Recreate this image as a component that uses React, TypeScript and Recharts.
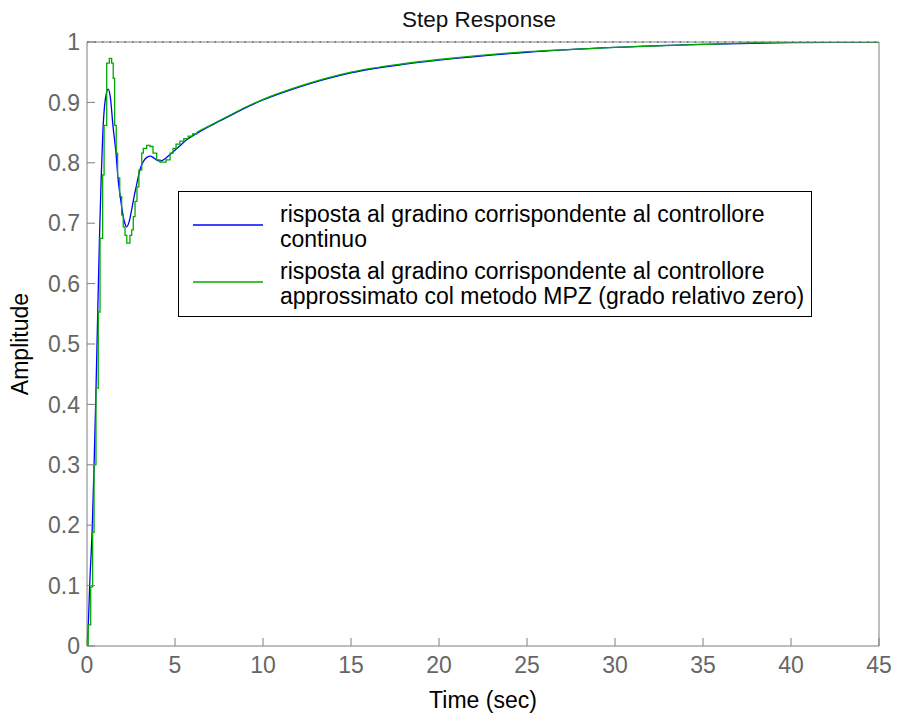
import React from 'react';
import { LineChart, Line, XAxis, YAxis, ReferenceLine, Label } from 'recharts';

// continuous controller (blue)
const blueTime = [0, 0.08, 0.15, 0.3, 0.4, 0.5, 0.6, 0.7, 0.8, 0.9, 1.0, 1.1, 1.2, 1.32, 1.48, 1.65, 1.76, 1.9, 2.02, 2.15, 2.25, 2.4, 2.55, 2.67, 2.85, 3.0, 3.2, 3.4, 3.6, 3.8, 4.0, 4.15, 4.4, 4.6, 4.8, 5.2, 5.66, 6.2, 7, 8, 9, 10, 12, 15, 18, 20, 25, 30, 35, 40, 45];
const blueAmp = [0, 0.04, 0.098, 0.198, 0.297, 0.41, 0.54, 0.665, 0.77, 0.85, 0.895, 0.915, 0.922, 0.91, 0.86, 0.815, 0.775, 0.742, 0.717, 0.7, 0.694, 0.703, 0.724, 0.743, 0.768, 0.788, 0.802, 0.809, 0.811, 0.808, 0.804, 0.803, 0.806, 0.811, 0.816, 0.826, 0.838, 0.848, 0.861, 0.876, 0.891, 0.904, 0.925, 0.949, 0.963, 0.97, 0.983, 0.991, 0.996, 0.999, 1.0];

// MPZ discretised controller (green), zero-order-hold part
const greenStepTime = [0, 0.07, 0.21, 0.32, 0.4, 0.51, 0.64, 0.74, 0.89, 0.97, 1.12, 1.27, 1.4, 1.49, 1.57, 1.66, 1.74, 1.86, 1.97, 2.06, 2.16, 2.26, 2.44, 2.54, 2.63, 2.73, 2.84, 2.95, 3.11, 3.2, 3.39, 3.58, 3.75, 3.96, 4.15, 4.49, 4.72, 4.89, 5.06, 5.28, 5.5, 5.75, 6.0, 6.25];
const greenStepAmp = [0, 0.035, 0.098, 0.188, 0.3, 0.427, 0.553, 0.675, 0.78, 0.862, 0.965, 0.973, 0.965, 0.94, 0.862, 0.816, 0.775, 0.744, 0.714, 0.694, 0.68, 0.667, 0.68, 0.689, 0.711, 0.736, 0.76, 0.788, 0.816, 0.824, 0.829, 0.827, 0.816, 0.805, 0.801, 0.805, 0.816, 0.824, 0.831, 0.836, 0.84, 0.844, 0.848, 0.851];
const greenTailTime = [6.25, 7, 8, 9, 10, 12, 15, 18, 20, 25, 30, 35, 40, 45];
const greenTailAmp = [0.851, 0.862, 0.877, 0.892, 0.905, 0.926, 0.95, 0.964, 0.971, 0.984, 0.991, 0.996, 1.0, 1.0];

const xTicks = [0, 5, 10, 15, 20, 25, 30, 35, 40, 45];
const yTicks = [0, 0.1, 0.2, 0.3, 0.4, 0.5, 0.6, 0.7, 0.8, 0.9, 1];

const legendItems = [
  { color: '#0000ff', lines: ['risposta al gradino corrispondente al controllore', 'continuo'] },
  { color: '#00aa00', lines: ['risposta al gradino corrispondente al controllore', 'approssimato col metodo MPZ (grado relativo zero)'] },
];

const blueData = blueTime.map((t, i) => ({ t, v: blueAmp[i] }));
const greenStepData = greenStepTime.map((t, i) => ({ t, v: greenStepAmp[i] }));
const greenTailData = greenTailTime.map((t, i) => ({ t, v: greenTailAmp[i] }));

const font = '"Liberation Sans", Arial, sans-serif';
const axisColor = '#7f7f7f';
const tickStyle = { fill: '#666', fontSize: 23, fontFamily: font };

const App = () => {
  return (
    <div style={{ position: 'absolute', left: 0, top: 0, width: 897, height: 719, background: '#fff', fontFamily: font }}>
      <LineChart width={897} height={719} margin={{ top: 0, right: 0, bottom: 0, left: 0 }}>
        <XAxis
          dataKey="t"
          type="number"
          domain={[0, 45]}
          ticks={xTicks}
          height={73}
          stroke={axisColor}
          tick={tickStyle}
          tickSize={-8}
          tickMargin={19}
          allowDataOverflow
        >
          <Label
            content={({ viewBox }: any) => (
              <text x={viewBox.x + viewBox.width / 2} y={708} textAnchor="middle" fontSize={23} fontFamily={font} fill="#000">
                Time (sec)
              </text>
            )}
          />
        </XAxis>
        <XAxis
          xAxisId="top"
          orientation="top"
          type="number"
          domain={[0, 45]}
          ticks={xTicks}
          height={42}
          stroke={axisColor}
          tick={() => <g />}
          tickSize={-8}
        >
          <Label
            content={({ viewBox }: any) => (
              <text x={viewBox.x + viewBox.width / 2 - 4} y={27} textAnchor="middle" fontSize={22.5} fontFamily={font} fill="#111">
                Step Response
              </text>
            )}
          />
        </XAxis>
        <YAxis
          type="number"
          domain={[0, 1]}
          ticks={yTicks}
          width={87}
          stroke={axisColor}
          tick={tickStyle}
          tickSize={-8}
          tickMargin={15}
          allowDataOverflow
        >
          <Label
            content={({ viewBox }: any) => (
              <text
                x={22}
                y={viewBox.y + viewBox.height / 2}
                transform={`rotate(-90 22 ${viewBox.y + viewBox.height / 2})`}
                textAnchor="middle"
                dominantBaseline="middle"
                fontSize={23}
                fontFamily={font}
                fill="#000"
              >
                Amplitude
              </text>
            )}
          />
        </YAxis>
        <YAxis
          yAxisId="right"
          orientation="right"
          type="number"
          domain={[0, 1]}
          ticks={yTicks}
          width={18}
          stroke={axisColor}
          tick={() => <g />}
          tickSize={-8}
        />
        <ReferenceLine y={1} stroke="#000" strokeDasharray="1.5 6" strokeWidth={1} />
        <Line data={blueData} dataKey="v" type="monotone" stroke="#0000ff" strokeWidth={1.3} dot={false} isAnimationActive={false} />
        <Line data={greenStepData} dataKey="v" type="stepAfter" stroke="#00aa00" strokeWidth={1.3} dot={false} isAnimationActive={false} />
        <Line data={greenTailData} dataKey="v" type="monotone" stroke="#00aa00" strokeWidth={1.3} dot={false} isAnimationActive={false} />
      </LineChart>
      <div
        style={{
          position: 'absolute',
          left: 178,
          top: 191,
          width: 632,
          height: 124,
          border: '1.5px solid #000',
          background: '#fff',
          fontSize: 23,
          lineHeight: '25px',
          color: '#000',
        }}
      >
        {legendItems.map((item, i) => (
          <div key={i} style={{ position: 'absolute', left: 0, top: 10 + i * 57, width: '100%' }}>
            <svg width={90} height={50} style={{ position: 'absolute', left: 0, top: 0 }}>
              <line x1={14} x2={84} y1={23} y2={23} stroke={item.color} strokeWidth={1.3} />
            </svg>
            <div style={{ position: 'absolute', left: 101, top: 0, whiteSpace: 'nowrap' }}>
              {item.lines.map((l, j) => (
                <div key={j}>{l}</div>
              ))}
            </div>
          </div>
        ))}
      </div>
    </div>
  );
};

export default App;
